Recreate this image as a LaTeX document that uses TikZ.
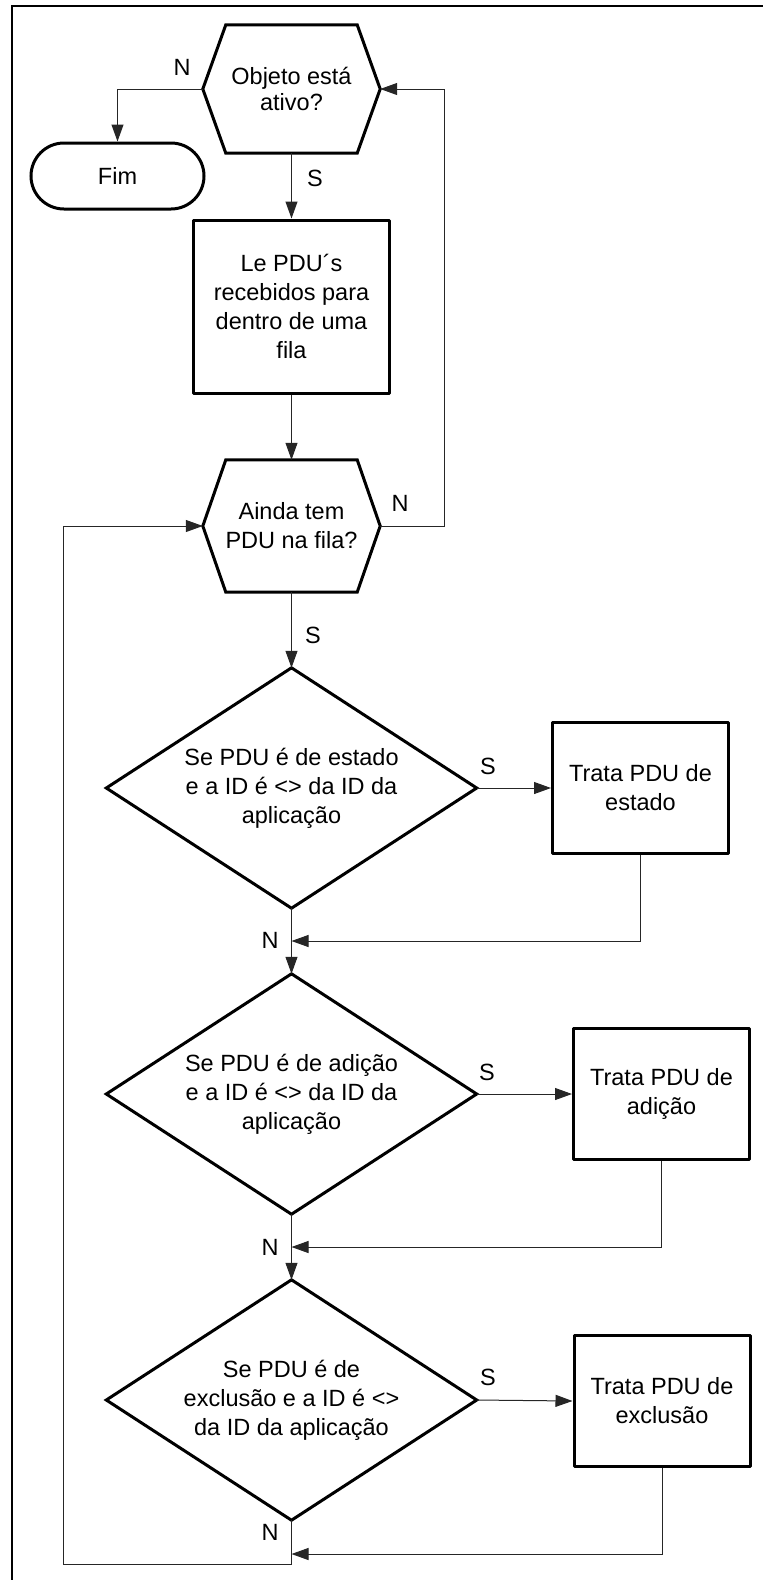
\documentclass[tikz,border=0pt]{standalone}
\usepackage{fontspec}
\setmainfont{Liberation Sans}
\usetikzlibrary{arrows.meta,shapes.misc}
\begin{document}
\begin{tikzpicture}[x=1pt,y=-1pt,
  every node/.style={font=\fontsize{23.5}{29}\selectfont, align=center, inner sep=0pt},
  shapeline/.style={line width=3pt, line join=miter},
  hexbox/.style={minimum width=177pt},
  dbox/.style={minimum width=370pt, minimum height=240pt},
  procbox/.style={draw, line width=3pt, line join=round, minimum width=176pt, minimum height=131pt},
  term/.style={draw, rounded rectangle, line width=3pt, minimum width=173pt, minimum height=66pt},
  conn/.style={line width=1pt, draw=black!85, -{Triangle[length=17pt,width=12pt]}},
  lbl/.style={}
]
\useasboundingbox (0,0) rectangle (763,1580);
\draw[line width=2pt] (12,6) rectangle (780,1600);

% hexagon 1
\node[hexbox, minimum height=128pt, font=\fontsize{23.5}{26}\selectfont] (h1) at (291.5,89) {Objeto está\\ativo?};
\draw[shapeline] ([xshift=23pt]h1.north west) -- ([xshift=-23pt]h1.north east) -- (h1.east)
  -- ([xshift=-23pt]h1.south east) -- ([xshift=23pt]h1.south west) -- (h1.west) -- cycle;

\node[term] (fim) at (117.5,176) {Fim};

\node[procbox, minimum width=196pt, minimum height=173pt] (b1) at (291.5,306.5)
  {Le PDU´s\\recebidos para\\dentro de uma\\fila};

% hexagon 2
\node[hexbox, minimum height=132pt] (h2) at (291.5,526) {Ainda tem\\PDU na fila?};
\draw[shapeline] ([xshift=23pt]h2.north west) -- ([xshift=-23pt]h2.north east) -- (h2.east)
  -- ([xshift=-23pt]h2.south east) -- ([xshift=23pt]h2.south west) -- (h2.west) -- cycle;

% diamonds
\node[dbox] (d1) at (291.5,788) {Se PDU é de estado\\e a ID é <> da ID da\\aplicação};
\draw[shapeline] (d1.north) -- (d1.east) -- (d1.south) -- (d1.west) -- cycle;
\node[dbox] (d2) at (291.5,1094) {Se PDU é de adição\\e a ID é <> da ID da\\aplicação};
\draw[shapeline] (d2.north) -- (d2.east) -- (d2.south) -- (d2.west) -- cycle;
\node[dbox] (d3) at (291.5,1400) {Se PDU é de\\exclusão e a ID é <>\\da ID da aplicação};
\draw[shapeline] (d3.north) -- (d3.east) -- (d3.south) -- (d3.west) -- cycle;

% process boxes
\node[procbox] (p1) at (640.5,788) {Trata PDU de\\estado};
\node[procbox] (p2) at (661.5,1094) {Trata PDU de\\adição};
\node[procbox] (p3) at (662,1401) {Trata PDU de\\exclusão};

% labels
\node[lbl] (lN1) at (182,67) {N};
\node[lbl] (lS1) at (315,178) {S};
\node[lbl] (lN2) at (400,503) {N};
\node[lbl] (lS2) at (313,635) {S};
\node[lbl] (lS3) at (488,766) {S};
\node[lbl] (lN3) at (270,940) {N};
\node[lbl] (lS4) at (487,1072) {S};
\node[lbl] (lN4) at (270,1247) {N};
\node[lbl] (lS5) at (488,1377) {S};
\node[lbl] (lN5) at (270,1532) {N};

% coordinates
\coordinate (r1) at (444,526);
\coordinate (m1) at (291.5,941);
\coordinate (m2) at (291.5,1247);
\coordinate (m3) at (291.5,1554);
\coordinate (bl) at (291.5,1564);
\coordinate (bl2) at (63,1564);

% connectors
\draw[conn] (h1.west) -| (fim.north);
\draw[conn] (h1.south) -- (b1.north);
\draw[conn] (b1.south) -- (h2.north);
\draw[conn] (h2.east) -- (r1) |- (h1.east);
\draw[conn] (h2.south) -- (d1.north);
\draw[conn] (d1.east) -- (p1.west);
\draw[conn] (p1.south) |- (m1);
\draw[conn] (d1.south) -- (d2.north);
\draw[conn] (d2.east) -- (p2.west);
\draw[conn] (p2.south) |- (m2);
\draw[conn] (d2.south) -- (d3.north);
\draw[conn] (d3.east) -- (p3.west);
\draw[conn] (p3.south) |- (m3);
\draw[conn] (d3.south) -- (bl) -- (bl2) |- (h2.west);
\end{tikzpicture}
\end{document}
